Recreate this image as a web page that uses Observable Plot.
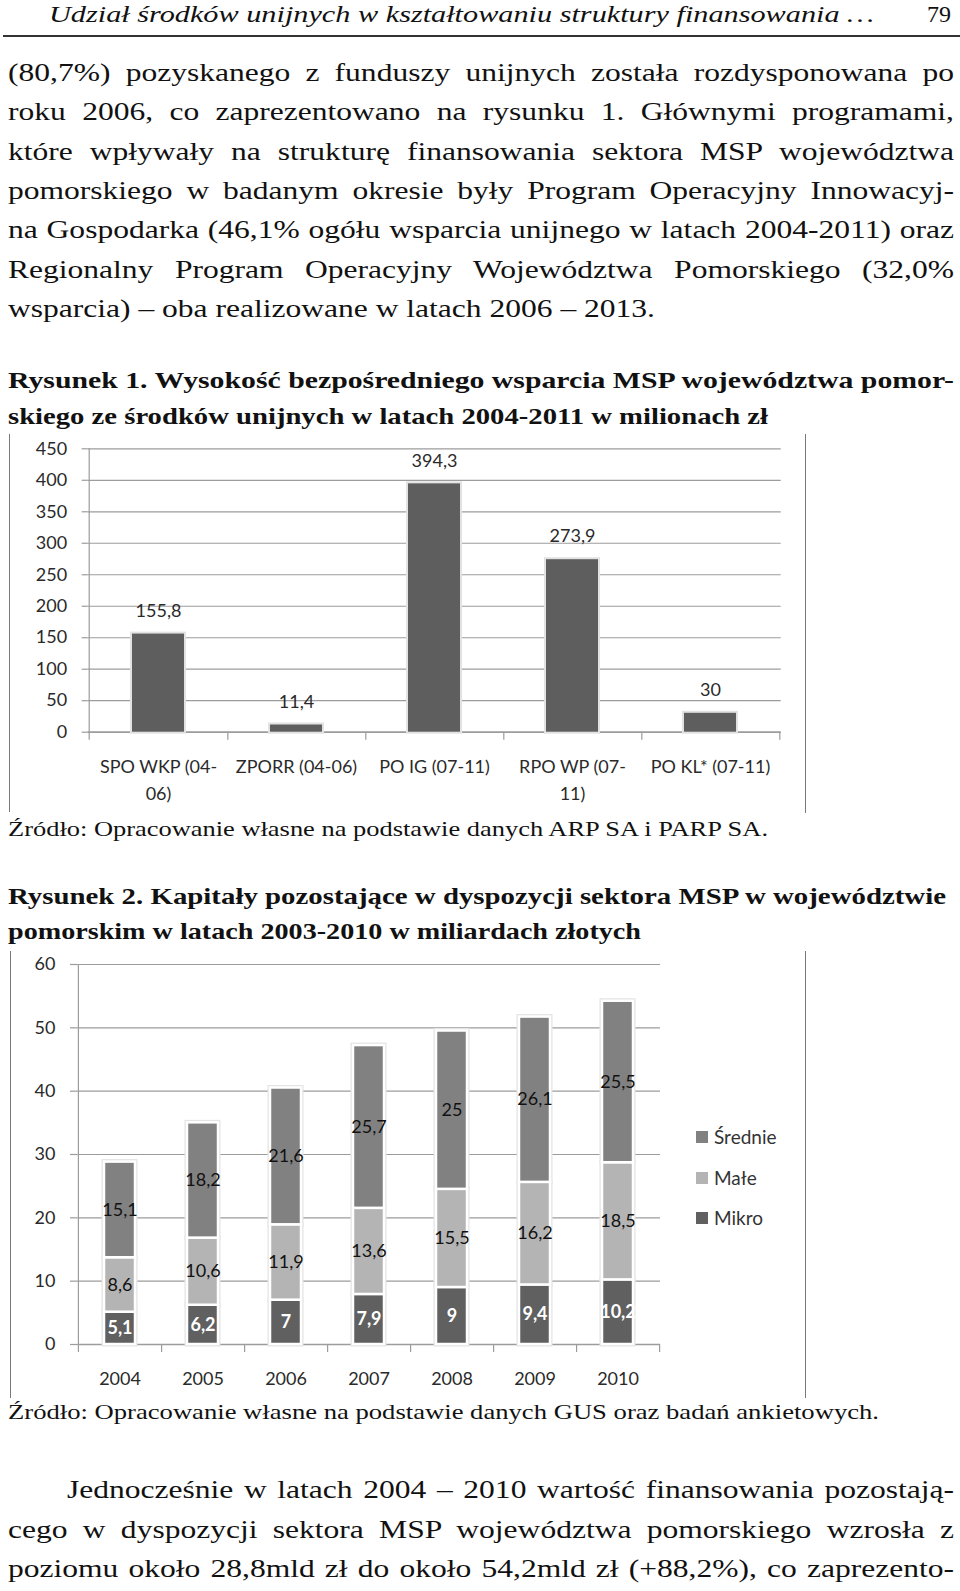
<!DOCTYPE html>
<html><head><meta charset="utf-8">
<script src="https://cdn.jsdelivr.net/npm/d3@7"></script>
<script src="https://cdn.jsdelivr.net/npm/@observablehq/plot@0.6"></script>
<style>
html,body{margin:0;padding:0;background:#fff;}
#page{position:relative;width:960px;height:1591px;overflow:hidden;font-family:"Liberation Serif","Times New Roman",serif;color:#111;}
.ln{position:absolute;white-space:nowrap;line-height:1;transform-origin:0 0;}
.vline{position:absolute;width:0;border-left:1.5px solid #7a7a7a;}
.hrule{position:absolute;left:3px;width:957px;height:2px;background:#333;top:35px;}
.chart{position:absolute;left:0;}
.leg{position:absolute;font-family:Lato,sans-serif;font-size:19px;color:#333;line-height:1;white-space:nowrap;}
.leg .sw{position:absolute;width:12px;height:12px;}
</style></head><body><div id="page"></div>
<script>
// ---------- chart data ----------
const programs = ["SPO WKP (04-\n06)", "ZPORR (04-06)", "PO IG (07-11)", "RPO WP (07-\n11)", "PO KL* (07-11)"];
const support = [155.8, 11.4, 394.3, 273.9, 30];
const ticks1 = [0, 50, 100, 150, 200, 250, 300, 350, 400, 450];

const years = ["2004", "2005", "2006", "2007", "2008", "2009", "2010"];
const mikro = [5.1, 6.2, 7, 7.9, 9, 9.4, 10.2];
const male = [8.6, 10.6, 11.9, 13.6, 15.5, 16.2, 18.5];
const srednie = [15.1, 18.2, 21.6, 25.7, 25, 26.1, 25.5];
const classes = ["Średnie", "Małe", "Mikro"];
const classColors = ["#818181", "#b4b4b4", "#606060"];
const stackOrder = ["Mikro", "Małe", "Średnie"];
const ticks2 = [0, 10, 20, 30, 40, 50, 60];

// ---------- page text ----------
const page = document.getElementById("page");
// g: group sharing a horizontal scale; ref: the line that sets the group's scale
const lines = [
  {t:"Udział środków unijnych w kształtowaniu struktury finansowania …", x:49, b:22, w:825, fs:24, st:"italic"},
  {t:"79", x:927, b:22, w:24, fs:24},
  {t:"(80,7%) pozyskanego z funduszy unijnych została rozdysponowana po", x:8, b:81.5, w:946, fs:26, j:1, g:"body"},
  {t:"roku 2006, co zaprezentowano na rysunku 1. Głównymi programami,", x:8, b:120.9, w:946, fs:26, j:1, g:"body"},
  {t:"które wpływały na strukturę finansowania sektora MSP województwa", x:8, b:160.3, w:946, fs:26, j:1, g:"body"},
  {t:"pomorskiego w badanym okresie były Program Operacyjny Innowacyj-", x:8, b:199.7, w:946, fs:26, j:1, g:"body"},
  {t:"na Gospodarka (46,1% ogółu wsparcia unijnego w latach 2004-2011) oraz", x:8, b:239.1, w:946, fs:26, j:1, g:"body"},
  {t:"Regionalny Program Operacyjny Województwa Pomorskiego (32,0%", x:8, b:278.5, w:946, fs:26, j:1, g:"body"},
  {t:"wsparcia) – oba realizowane w latach 2006 – 2013.", x:8, b:317.9, w:647, fs:26, g:"body", ref:1},
  {t:"Rysunek 1. Wysokość bezpośredniego wsparcia MSP województwa pomor-", x:8, b:388.5, w:946, fs:23, bold:1},
  {t:"skiego ze środków unijnych w latach 2004-2011 w milionach zł", x:8, b:424, w:760, fs:23, bold:1},
  {t:"Źródło: Opracowanie własne na podstawie danych ARP SA i PARP SA.", x:8, b:836.5, w:760, fs:21},
  {t:"Rysunek 2. Kapitały pozostające w dyspozycji sektora MSP w województwie", x:8, b:904, w:938, fs:23, bold:1},
  {t:"pomorskim w latach 2003-2010 w miliardach złotych", x:8, b:939.5, w:633, fs:23, bold:1},
  {t:"Źródło: Opracowanie własne na podstawie danych GUS oraz badań ankietowych.", x:8, b:1420, w:871, fs:21},
  {t:"Jednocześnie w latach 2004 – 2010 wartość finansowania pozostają-", x:67, b:1499, w:887, fs:26, j:1, g:"body"},
  {t:"cego w dyspozycji sektora MSP województwa pomorskiego wzrosła z", x:8, b:1538.5, w:946, fs:26, j:1, g:"body"},
  {t:"poziomu około 28,8mld zł do około 54,2mld zł (+88,2%), co zaprezento-", x:8, b:1578, w:946, fs:26, j:1, g:"body"}
];
const els = lines.map(L => {
  const el = document.createElement("div");
  el.className = "ln";
  el.textContent = L.t;
  el.style.left = L.x + "px";
  el.style.top = Math.max(0, L.b - 0.8375 * L.fs) + "px";
  el.style.fontSize = L.fs + "px";
  if (L.st) el.style.fontStyle = L.st;
  if (L.bold) el.style.fontWeight = "bold";
  page.appendChild(el);
  return el;
});
const nats = els.map(el => el.getBoundingClientRect().width);
const groupScale = {};
lines.forEach((L, i) => { if (L.ref) groupScale[L.g] = L.w / nats[i]; });
lines.forEach((L, i) => {
  const el = els[i], nat = nats[i];
  const s = L.g ? groupScale[L.g] : L.w / nat;
  if (L.j && nat * s < L.w) {
    const spaces = (L.t.match(/ /g) || []).length;
    el.style.wordSpacing = ((L.w / s - nat) / spaces) + "px";
    el.style.transform = `scaleX(${s})`;
  } else {
    el.style.transform = `scaleX(${L.w / nat})`;
  }
});
const rule = document.createElement("div"); rule.className = "hrule"; page.appendChild(rule);

function vline(x, y1, y2) {
  const d = document.createElement("div");
  d.className = "vline";
  d.style.left = x + "px"; d.style.top = y1 + "px"; d.style.height = (y2 - y1) + "px";
  page.appendChild(d);
}
vline(8.5, 434, 812); vline(804.5, 434, 813);
vline(9.5, 951, 1398); vline(804.5, 951, 1398);

const fmt = v => String(v).replace(".", ",");
const gridColor = "#9c9c9c";
const textColor = "#2a2a2a";

// ---------- chart 1 ----------
{
  const ml = 87.7, mr = 179.3, mt = 18.3, mb = 78.3, H = 380;
  const pxPerUnit = (H - mt - mb) / 450;
  const half = (960 - ml - mr) / programs.length / 2;
  const tickLen = 8 / pxPerUnit;
  const d1 = programs.map((p, i) => ({p, v: support[i]}));
  const chart = Plot.plot({
    width: 960, height: H, marginTop: mt, marginBottom: mb, marginLeft: ml, marginRight: mr,
    style: {fontFamily: "Lato, sans-serif", fontSize: "18px", color: textColor, background: "transparent", overflow: "visible"},
    x: {domain: programs, paddingInner: 0.62, paddingOuter: 0.31, axis: null},
    y: {domain: [0, 450], axis: null},
    marks: [
      Plot.gridY(ticks1, {stroke: gridColor, strokeOpacity: 1, strokeWidth: 1.2}),
      Plot.axisY(ticks1, {tickSize: 6, tickPadding: 15, stroke: gridColor, strokeWidth: 1.2, fill: textColor, fontSize: 18, label: null, tickFormat: d => d}),
      Plot.ruleX([0], {x: () => programs[0], dx: -half, y1: -tickLen, y2: 450, stroke: gridColor, strokeWidth: 1.2}),
      Plot.ruleX(programs, {x: d => d, dx: half, y1: 0, y2: -tickLen, stroke: gridColor, strokeWidth: 1.2}),
      Plot.ruleY([0], {stroke: gridColor, strokeWidth: 1.5}),
      Plot.barY(d1, {x: "p", y: "v", fill: "#5e5e5e", stroke: "#e2e2e2", strokeWidth: 4, paintOrder: "stroke"}),
      Plot.text(d1, {x: "p", y: "v", text: d => fmt(d.v), dy: -23, fontSize: 18, fill: textColor}),
      Plot.text(programs, {x: d => d, text: d => d, frameAnchor: "bottom", lineAnchor: "top", dy: 22, fontSize: 18, lineHeight: 1.5, fill: textColor})
    ]
  });
  chart.classList.add("chart");
  chart.style.top = "430px";
  page.appendChild(chart);
}

// ---------- chart 2 ----------
{
  const ml = 77.7, mr = 300, mt = 24, mb = 56, H = 460;
  const pxPerUnit = (H - mt - mb) / 60;
  const half = (960 - ml - mr) / years.length / 2;
  const tickLen = 8 / pxPerUnit;
  const series = {"Mikro": mikro, "Małe": male, "Średnie": srednie};
  const d2 = years.flatMap((y, i) => stackOrder.map(c => ({year: y, cls: c, v: series[c][i]})));
  const stackOpts = {x: "year", y: "v", z: "cls", order: stackOrder};
  const chart = Plot.plot({
    width: 960, height: H, marginTop: mt, marginBottom: mb, marginLeft: ml, marginRight: mr,
    style: {fontFamily: "Lato, sans-serif", fontSize: "18px", color: textColor, background: "transparent", overflow: "visible"},
    x: {domain: years, paddingInner: 0.63, paddingOuter: 0.315, axis: null},
    y: {domain: [0, 60], axis: null},
    color: {domain: classes, range: classColors},
    marks: [
      Plot.gridY(ticks2, {stroke: gridColor, strokeOpacity: 1, strokeWidth: 1.2}),
      Plot.axisY(ticks2, {tickSize: 7.7, tickPadding: 15, stroke: gridColor, strokeWidth: 1.2, fill: textColor, fontSize: 18, label: null, tickFormat: d => d}),
      Plot.ruleX([0], {x: () => years[0], dx: -half, y1: -tickLen, y2: 60, stroke: gridColor, strokeWidth: 1.2}),
      Plot.ruleX(years, {x: d => d, dx: half, y1: 0, y2: -tickLen, stroke: gridColor, strokeWidth: 1.2}),
      Plot.ruleY([0], {stroke: gridColor, strokeWidth: 1.5}),
      Plot.barY(d2, Plot.stackY({...stackOpts, fill: "#e4e4e4", stroke: "#e4e4e4", strokeWidth: 5})),
      Plot.barY(d2, Plot.stackY({...stackOpts, fill: "cls", stroke: "white", strokeWidth: 2.5})),
      Plot.text(d2, Plot.stackY({...stackOpts, text: d => d.cls === "Mikro" ? null : fmt(d.v), fill: "#111", fontSize: 18})),
      Plot.text(d2, Plot.stackY({...stackOpts, text: d => d.cls === "Mikro" ? fmt(d.v) : null, fill: "white", fontSize: 18, fontWeight: "bold"})),
      Plot.text(years, {x: d => d, text: d => d, frameAnchor: "bottom", lineAnchor: "top", dy: 28, fontSize: 18, fill: textColor})
    ]
  });
  chart.classList.add("chart");
  chart.style.top = "940px";
  page.appendChild(chart);

  // legend
  const legTops = [1136.7, 1178, 1218];
  classes.forEach((c, i) => {
    const sw = document.createElement("div");
    sw.className = "leg";
    sw.style.left = "696px";
    sw.style.top = (legTops[i] - 10) + "px";
    sw.innerHTML = `<span class="sw" style="left:0;top:4px;background:${classColors[i]}"></span><span style="position:absolute;left:18px;top:0">${c}</span>`;
    page.appendChild(sw);
  });
}
</script>
</body></html>
